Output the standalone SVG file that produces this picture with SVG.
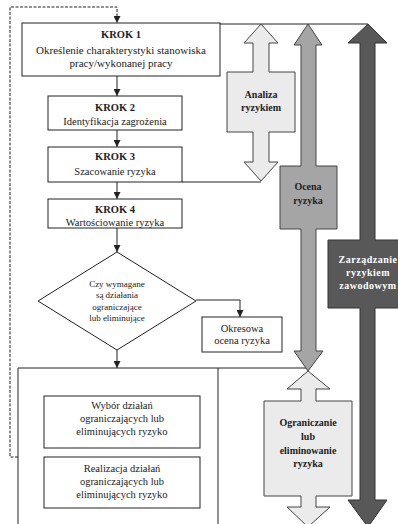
<svg xmlns="http://www.w3.org/2000/svg" width="398" height="524" viewBox="0 0 398 524">
<style>
text{font-family:"Liberation Serif","Times New Roman",serif;fill:#222;text-anchor:middle}
.box{fill:#fff;stroke:#222;stroke-width:1}
.t{font-size:10.5px}
.b{font-weight:bold}
.lbl{font-size:10px;font-weight:bold}
.ln{fill:none;stroke:#222;stroke-width:1}
.light{fill:#ebebeb;stroke:#444;stroke-width:1}
.mid{fill:#a5a5a5;stroke:#444;stroke-width:1}
.dark{fill:#585858;stroke:#333;stroke-width:1}
.d{font-size:9px}
</style>
<defs>
<marker id="ah" viewBox="0 0 10 10" refX="10" refY="5" markerWidth="7" markerHeight="7" markerUnits="userSpaceOnUse" orient="auto"><path d="M0,0 L10,5 L0,10 z" fill="#222"/></marker>
</defs>
<rect width="398" height="524" fill="#fff"/>
<g id="connectors">
<path class="ln" d="M220,24 H368"/>
<path class="ln" d="M182,182 H261"/>
<path class="ln" d="M218,368 H308"/>
<path class="ln" d="M117,76 V96" marker-end="url(#ah)"/>
<path class="ln" d="M117,130 V147" marker-end="url(#ah)"/>
<path class="ln" d="M117,182 V199" marker-end="url(#ah)"/>
<path class="ln" d="M117,228 V252" marker-end="url(#ah)"/>
<path class="ln" d="M117,350 V368" marker-end="url(#ah)"/>
<path class="ln" d="M196,300 H240 V317" marker-end="url(#ah)"/>
<path class="ln" d="M18,457 H10 V7 H117 V23" stroke-dasharray="3,1.5" marker-end="url(#ah)"/>
</g>
<g id="arrow-analiza">
<path class="light" d="M261,24 L278,43 L269,43 L269,72 L295,72 L295,132 L269,132 L269,162 L278,162 L261,181 L244,162 L253,162 L253,132 L227,132 L227,72 L253,72 L253,43 L244,43 Z"/>
<text class="lbl" x="261" y="98">Analiza</text>
<text class="lbl" x="261" y="111">ryzykiem</text>
</g>
<g id="arrow-ocena">
<path class="mid" d="M308,24 L322,45 L316,45 L316,166 L337,166 L337,229 L316,229 L316,351 L323,351 L308,371 L294,351 L301,351 L301,229 L280,229 L280,166 L301,166 L301,45 L294,45 Z"/>
<text class="lbl" x="308" y="190">Ocena</text>
<text class="lbl" x="308" y="204">ryzyka</text>
</g>
<g id="arrow-zarzadzanie">
<path class="dark" d="M368,24 L387,43 L375,43 L375,240 L410,240 L410,308 L375,308 L375,500 L387,500 L368,527 L348,500 L360,500 L360,308 L328,308 L328,240 L360,240 L360,43 L348,43 Z"/>
<text class="lbl" x="368" y="263" style="fill:#fff;letter-spacing:0.5px">Zarządzanie</text>
<text class="lbl" x="368" y="276" style="fill:#fff;letter-spacing:0.5px">ryzykiem</text>
<text class="lbl" x="368" y="289" style="fill:#fff;letter-spacing:0.5px">zawodowym</text>
</g>
<g id="arrow-ograniczanie">
<path class="light" d="M308,371 L330,389 L316,389 L316,401 L352,401 L352,496 L316,496 L316,507 L330,507 L308,527 L287,507 L301,507 L301,496 L264,496 L264,401 L301,401 L301,389 L287,389 Z"/>
<text class="lbl" x="308" y="426">Ograniczanie</text>
<text class="lbl" x="308" y="440">lub</text>
<text class="lbl" x="308" y="454">eliminowanie</text>
<text class="lbl" x="308" y="467">ryzyka</text>
</g>
<g id="krok1">
<rect class="box" x="22" y="23" width="198" height="53"/>
<text class="t b" x="121" y="38">KROK 1</text>
<text x="121" y="54" style="font-size:11px">Określenie charakterystyki stanowiska</text>
<text x="121" y="67" style="font-size:11px">pracy/wykonanej pracy</text>
</g>
<g id="krok2">
<rect class="box" x="48" y="96" width="134" height="34"/>
<text class="t b" x="115" y="111">KROK 2</text>
<text class="t" x="115" y="125">Identyfikacja zagrożenia</text>
</g>
<g id="krok3">
<rect class="box" x="48" y="147" width="134" height="35"/>
<text class="t b" x="115" y="160">KROK 3</text>
<text class="t" x="115" y="175">Szacowanie ryzyka</text>
</g>
<g id="krok4">
<rect class="box" x="48" y="199" width="134" height="29"/>
<text class="t b" x="115" y="213">KROK 4</text>
<text class="t" x="115" y="226">Wartościowanie ryzyka</text>
</g>
<g id="decyzja">
<path class="box" d="M117,252 L196,301 L117,350 L38,301 Z"/>
<text class="d" x="117" y="287">Czy wymagane</text>
<text class="d" x="117" y="298">są działania</text>
<text class="d" x="117" y="310">ograniczające</text>
<text class="d" x="117" y="321">lub eliminujące</text>
</g>
<g id="okresowa">
<rect class="box" x="202" y="317" width="80" height="35"/>
<text class="t" x="242" y="332">Okresowa</text>
<text class="t" x="242" y="344">ocena ryzyka</text>
</g>
<g id="kontener">
<path class="ln" d="M18,530 V368 H218 V530"/>
</g>
<g id="wybor">
<rect class="box" x="44" y="396" width="156" height="52"/>
<text class="t" x="122" y="409">Wybór działań</text>
<text class="t" x="122" y="422">ograniczających lub</text>
<text class="t" x="122" y="435">eliminujących ryzyko</text>
</g>
<g id="realizacja">
<rect class="box" x="44" y="457" width="156" height="51"/>
<text class="t" x="122" y="472">Realizacja działań</text>
<text class="t" x="122" y="485">ograniczających lub</text>
<text class="t" x="122" y="498">eliminujących ryzyko</text>
</g>
</svg>
